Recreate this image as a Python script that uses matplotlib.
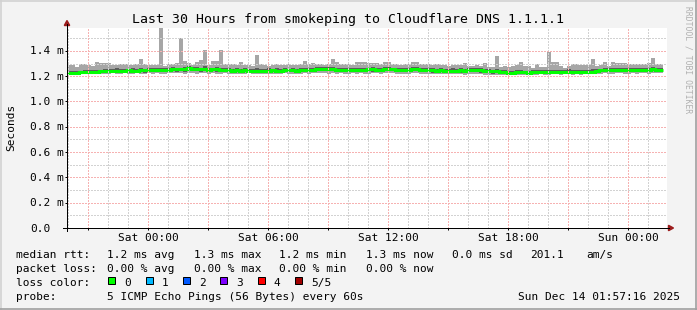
import numpy as np
import matplotlib
matplotlib.use('Agg')
from matplotlib import pyplot as plt
from matplotlib.patches import Rectangle, Polygon
from matplotlib.lines import Line2D

# smoke data in ms, one value per 12 minute bin (ping max, 4th, median, 2nd, min)
rtt_max = [1.289, 1.289, 1.275, 1.296, 1.296, 1.289, 1.283, 1.312, 1.302, 1.302,
           1.302, 1.289, 1.289, 1.296, 1.296, 1.292, 1.289, 1.296, 1.339, 1.296,
           1.289, 1.289, 1.289, 1.581, 1.280, 1.296, 1.296, 1.302, 1.500, 1.320,
           1.307, 1.289, 1.310, 1.328, 1.410, 1.289, 1.320, 1.320, 1.410, 1.296,
           1.296, 1.294, 1.289, 1.312, 1.289, 1.289, 1.283, 1.370, 1.294, 1.289,
           1.283, 1.289, 1.294, 1.289, 1.289, 1.296, 1.289, 1.289, 1.296, 1.320,
           1.296, 1.302, 1.296, 1.296, 1.289, 1.296, 1.339, 1.312, 1.294, 1.296,
           1.294, 1.289, 1.312, 1.312, 1.312, 1.307, 1.302, 1.302, 1.296, 1.312,
           1.312, 1.294, 1.294, 1.289, 1.296, 1.294, 1.312, 1.312, 1.296, 1.294,
           1.296, 1.289, 1.294, 1.289, 1.289, 1.283, 1.289, 1.289, 1.289, 1.307,
           1.283, 1.283, 1.289, 1.283, 1.307, 1.275, 1.275, 1.360, 1.275, 1.283,
           1.275, 1.280, 1.289, 1.312, 1.283, 1.283, 1.267, 1.294, 1.275, 1.275,
           1.394, 1.315, 1.315, 1.283, 1.267, 1.283, 1.294, 1.294, 1.289, 1.289,
           1.289, 1.339, 1.283, 1.289, 1.312, 1.283, 1.315, 1.304, 1.304, 1.304,
           1.296, 1.296, 1.296, 1.296, 1.296, 1.302, 1.346, 1.296, 1.296]
rtt_p4 = [1.241, 1.238, 1.245, 1.244, 1.249, 1.246, 1.250, 1.252, 1.251, 1.256,
          1.257, 1.258, 1.262, 1.258, 1.260, 1.259, 1.262, 1.258, 1.262, 1.260,
          1.264, 1.262, 1.265, 1.263, 1.266, 1.265, 1.270, 1.266, 1.268, 1.275,
          1.278, 1.271, 1.272, 1.266, 1.280, 1.265, 1.268, 1.270, 1.264, 1.266,
          1.262, 1.260, 1.263, 1.258, 1.262, 1.257, 1.258, 1.262, 1.259, 1.257,
          1.261, 1.259, 1.262, 1.258, 1.263, 1.260, 1.264, 1.259, 1.263, 1.262,
          1.264, 1.266, 1.272, 1.273, 1.270, 1.274, 1.271, 1.265, 1.266, 1.264,
          1.265, 1.263, 1.268, 1.264, 1.266, 1.267, 1.270, 1.265, 1.266, 1.270,
          1.272, 1.268, 1.265, 1.266, 1.262, 1.268, 1.274, 1.272, 1.266, 1.263,
          1.261, 1.263, 1.258, 1.262, 1.259, 1.257, 1.261, 1.258, 1.262, 1.258,
          1.264, 1.266, 1.264, 1.262, 1.258, 1.256, 1.252, 1.255, 1.250, 1.247,
          1.244, 1.243, 1.246, 1.248, 1.245, 1.244, 1.246, 1.247, 1.250, 1.246,
          1.252, 1.250, 1.252, 1.249, 1.250, 1.253, 1.251, 1.249, 1.251, 1.252,
          1.249, 1.254, 1.253, 1.260, 1.264, 1.265, 1.262, 1.266, 1.265, 1.264,
          1.265, 1.266, 1.263, 1.267, 1.265, 1.266, 1.270, 1.266, 1.267]
rtt_median = [1.226, 1.225, 1.228, 1.231, 1.230, 1.233, 1.236, 1.235, 1.238, 1.240,
              1.242, 1.244, 1.243, 1.245, 1.244, 1.246, 1.243, 1.245, 1.247, 1.246,
              1.248, 1.249, 1.247, 1.250, 1.248, 1.252, 1.254, 1.253, 1.255, 1.256,
              1.262, 1.258, 1.254, 1.253, 1.255, 1.252, 1.254, 1.253, 1.250, 1.248,
              1.247, 1.245, 1.246, 1.244, 1.246, 1.243, 1.242, 1.244, 1.245, 1.243,
              1.245, 1.246, 1.244, 1.245, 1.247, 1.246, 1.248, 1.245, 1.247, 1.248,
              1.249, 1.252, 1.258, 1.260, 1.256, 1.259, 1.255, 1.252, 1.250, 1.251,
              1.249, 1.250, 1.252, 1.251, 1.250, 1.254, 1.253, 1.252, 1.251, 1.256,
              1.257, 1.254, 1.251, 1.250, 1.249, 1.252, 1.259, 1.258, 1.252, 1.248,
              1.247, 1.246, 1.245, 1.247, 1.244, 1.243, 1.245, 1.244, 1.246, 1.243,
              1.249, 1.251, 1.250, 1.246, 1.242, 1.240, 1.238, 1.239, 1.236, 1.232,
              1.229, 1.228, 1.230, 1.232, 1.231, 1.229, 1.230, 1.232, 1.234, 1.231,
              1.233, 1.235, 1.236, 1.234, 1.235, 1.237, 1.236, 1.234, 1.235, 1.236,
              1.234, 1.237, 1.238, 1.246, 1.248, 1.250, 1.247, 1.249, 1.251, 1.249,
              1.250, 1.251, 1.249, 1.252, 1.250, 1.251, 1.253, 1.251, 1.252]
rtt_p2 = [1.218, 1.214, 1.219, 1.221, 1.218, 1.220, 1.223, 1.222, 1.224, 1.226,
          1.228, 1.230, 1.226, 1.229, 1.231, 1.229, 1.227, 1.230, 1.232, 1.229,
          1.231, 1.234, 1.232, 1.233, 1.230, 1.236, 1.238, 1.236, 1.240, 1.237,
          1.246, 1.242, 1.238, 1.236, 1.240, 1.235, 1.238, 1.237, 1.233, 1.232,
          1.231, 1.228, 1.232, 1.227, 1.231, 1.229, 1.225, 1.229, 1.230, 1.227,
          1.230, 1.232, 1.228, 1.230, 1.233, 1.230, 1.232, 1.229, 1.231, 1.234,
          1.233, 1.237, 1.241, 1.242, 1.240, 1.242, 1.238, 1.236, 1.234, 1.235,
          1.233, 1.236, 1.236, 1.235, 1.233, 1.238, 1.237, 1.235, 1.236, 1.240,
          1.241, 1.238, 1.234, 1.235, 1.232, 1.236, 1.243, 1.241, 1.236, 1.231,
          1.231, 1.229, 1.230, 1.231, 1.228, 1.226, 1.230, 1.228, 1.229, 1.226,
          1.233, 1.235, 1.234, 1.229, 1.225, 1.223, 1.221, 1.223, 1.220, 1.216,
          1.214, 1.215, 1.214, 1.217, 1.215, 1.213, 1.214, 1.217, 1.219, 1.215,
          1.217, 1.220, 1.221, 1.218, 1.219, 1.222, 1.220, 1.218, 1.219, 1.221,
          1.218, 1.222, 1.223, 1.231, 1.233, 1.235, 1.231, 1.234, 1.236, 1.233,
          1.234, 1.236, 1.233, 1.237, 1.234, 1.236, 1.238, 1.235, 1.237]
rtt_min = [1.214, 1.212, 1.216, 1.219, 1.215, 1.218, 1.220, 1.217, 1.219, 1.221,
           1.220, 1.222, 1.218, 1.221, 1.223, 1.220, 1.219, 1.222, 1.221, 1.218,
           1.222, 1.220, 1.224, 1.221, 1.219, 1.223, 1.222, 1.225, 1.224, 1.221,
           1.226, 1.223, 1.221, 1.224, 1.222, 1.220, 1.223, 1.221, 1.219, 1.222,
           1.220, 1.218, 1.221, 1.217, 1.219, 1.222, 1.216, 1.219, 1.220, 1.218,
           1.221, 1.219, 1.217, 1.220, 1.222, 1.219, 1.221, 1.218, 1.220, 1.222,
           1.221, 1.223, 1.225, 1.222, 1.224, 1.221, 1.223, 1.220, 1.222, 1.219,
           1.221, 1.223, 1.220, 1.222, 1.219, 1.221, 1.224, 1.222, 1.220, 1.223,
           1.225, 1.222, 1.219, 1.221, 1.218, 1.220, 1.224, 1.223, 1.220, 1.217,
           1.218, 1.216, 1.219, 1.220, 1.216, 1.214, 1.217, 1.219, 1.215, 1.213,
           1.218, 1.221, 1.219, 1.216, 1.212, 1.210, 1.208, 1.211, 1.209, 1.207,
           1.210, 1.212, 1.211, 1.213, 1.209, 1.210, 1.208, 1.212, 1.214, 1.211,
           1.213, 1.215, 1.216, 1.212, 1.214, 1.216, 1.213, 1.215, 1.212, 1.214,
           1.215, 1.217, 1.216, 1.220, 1.222, 1.221, 1.219, 1.223, 1.222, 1.220,
           1.221, 1.223, 1.220, 1.222, 1.224, 1.221, 1.223, 1.222, 1.224]

title = "Last 30 Hours from smokeping to Cloudflare DNS 1.1.1.1"
x_labels = ['Sat 00:00', 'Sat 06:00', 'Sat 12:00', 'Sat 18:00', 'Sun 00:00']
y_ticks = [0.0, 0.2, 0.4, 0.6, 0.8, 1.0, 1.2, 1.4]
y_labels = ['0.0', '0.2 m', '0.4 m', '0.6 m', '0.8 m', '1.0 m', '1.2 m', '1.4 m']
rtt_stats = ['1.2 ms avg', '1.3 ms max', '1.2 ms min', '1.3 ms now', '0.0 ms sd', '201.1', 'am/s']
loss_stats = ['0.00 % avg', '0.00 % max', '0.00 % min', '0.00 % now']
loss_names = ['0', '1', '2', '3', '4', '5/5']
loss_colors = ['#00ff00', '#00b8ff', '#0059ff', '#7e00ff', '#ff0000', '#a00000']
probe_text = "5 ICMP Echo Pings (56 Bytes) every 60s"
date_text = "Sun Dec 14 01:57:16 2025"

W, H = 697, 310
MONO = 'DejaVu Sans Mono'
plt.rcParams['font.family'] = MONO

def fx(x):
    return x / W

def fy(y):
    return 1 - y / H

fig = plt.figure(figsize=(W / 100, H / 100), dpi=100, facecolor='#f3f3f3')

# plot area 67..667 px wide, 28..228 px high
ax = fig.add_axes([fx(67), fy(228), 600 / W, 200 / H])
ax.set_facecolor('white')
ymax = 200 / 126.5
ax.set_xlim(0, 30)
ax.set_ylim(0, ymax)
for s in ax.spines.values():
    s.set_visible(False)

edges = np.arange(len(rtt_max) + 1) * 0.2
ax.stairs(rtt_max, edges, baseline=rtt_min, fill=True, color='#a6a6a6', lw=0, zorder=1)
ax.stairs(rtt_p4, edges, baseline=rtt_p2, fill=True, color='#5c5c5c', lw=0, zorder=1.1)
ax.stairs(rtt_median, edges, baseline=None, color='#00ff00', lw=2.2, zorder=1.5)

# grid: hours from 20:00 (start is 19:57:16)
h0 = (60 - 57 - 16 / 60) / 60
hours = h0 + np.arange(30)
major_x = [h for k, h in enumerate(hours) if (20 + k) % 3 == 0]
minor_x = [h for k, h in enumerate(hours) if (20 + k) % 3 != 0]
label_x = [h for k, h in enumerate(hours) if (20 + k) % 6 == 0]
minor_y = np.arange(0.1, ymax, 0.2)

dots = (0, (1.4, 1.4))
gkw = dict(lw=0.72, ls=dots, antialiased=False)
for h in minor_x:
    ax.axvline(h, color='#d2d2d2', zorder=2.5, **gkw)
for v in minor_y:
    ax.axhline(v, color='#d2d2d2', zorder=2.5, **gkw)
for h in major_x:
    ax.axvline(h, color='#f6b2b2', zorder=2.6, **gkw)
for v in y_ticks[1:]:
    ax.axhline(v, color='#f6b2b2', zorder=2.6, **gkw)

ax.set_xticks(major_x)
ax.set_yticks(y_ticks)
ax.tick_params(length=1.5, width=0.72, direction='out', color='black',
               labelbottom=False, labelleft=False)

# axes with arrows
fig.add_artist(Line2D([fx(63), fx(669)], [fy(228), fy(228)], color='black', lw=0.72))
fig.add_artist(Line2D([fx(67), fx(67)], [fy(231), fy(24)], color='black', lw=0.72))
arrow_c = '#9c1c1c'
fig.add_artist(Polygon([[fx(67), fy(20.5)], [fx(64.3), fy(25.5)], [fx(69.7), fy(25.5)]],
                       closed=True, color=arrow_c, transform=fig.transFigure))
fig.add_artist(Polygon([[fx(673.5), fy(228)], [fx(668.5), fy(225.3)], [fx(668.5), fy(230.7)]],
                       closed=True, color=arrow_c, transform=fig.transFigure))

# y labels
for v, lab in zip(y_ticks, y_labels):
    fig.text(fx(30), fy(228 - v * 126.5 + 3.6), lab, fontsize=8, ha='left', va='baseline')

# x labels
for h, lab in zip(label_x, x_labels):
    fig.text(fx(67 + h * 20), fy(241), lab, fontsize=8, ha='center', va='baseline')

fig.text(fx(348), fy(23.3), title, fontsize=9.5, ha='center', va='baseline')
fig.text(fx(11), fy(127), 'Seconds', fontsize=8, rotation=90, ha='center', va='center')
fig.text(fx(688), fy(60), 'RRDTOOL / TOBI OETIKER', fontsize=5.8, rotation=270,
         ha='center', va='center', color='#b0b0b0')

# legend
fig.text(fx(16), fy(258), 'median rtt:', fontsize=8, va='baseline')
for x, s in zip([107.3, 194, 279.3, 366, 451.7, 530, 586], rtt_stats):
    fig.text(fx(x), fy(258), s, fontsize=8, va='baseline')
fig.text(fx(16), fy(272.3), 'packet loss:', fontsize=8, va='baseline')
for x, s in zip([107.3, 194, 279.3, 366], loss_stats):
    fig.text(fx(x), fy(272.3), s, fontsize=8, va='baseline')
fig.text(fx(16), fy(286.3), 'loss color:', fontsize=8, va='baseline')
for i, (name, c) in enumerate(zip(loss_names, loss_colors)):
    bx = 108.3 + i * 37.35
    fig.add_artist(Rectangle((fx(bx), fy(284.3)), 7 / W, 7 / H, transform=fig.transFigure,
                             facecolor=c, edgecolor='black', lw=0.72))
    fig.text(fx(bx + 15.7), fy(286.3), name, fontsize=8, va='baseline')
fig.text(fx(16), fy(300.5), 'probe:', fontsize=8, va='baseline')
fig.text(fx(107.3), fy(300.5), probe_text, fontsize=8, va='baseline')
fig.text(fx(680.5), fy(300.5), date_text, fontsize=8, va='baseline', ha='right')

# frame
fig.add_artist(Line2D([0, 1], [fy(0.75), fy(0.75)], color='#d2d2d2', lw=1.2))
fig.add_artist(Line2D([fx(0.75), fx(0.75)], [0, 1], color='#d2d2d2', lw=1.2))
fig.add_artist(Line2D([0, 1], [fy(309.25), fy(309.25)], color='#a0a0a0', lw=1.2))
fig.add_artist(Line2D([fx(696.25), fx(696.25)], [0, 1], color='#a0a0a0', lw=1.2))

fig.savefig('out.png', dpi=100, facecolor=fig.get_facecolor())
